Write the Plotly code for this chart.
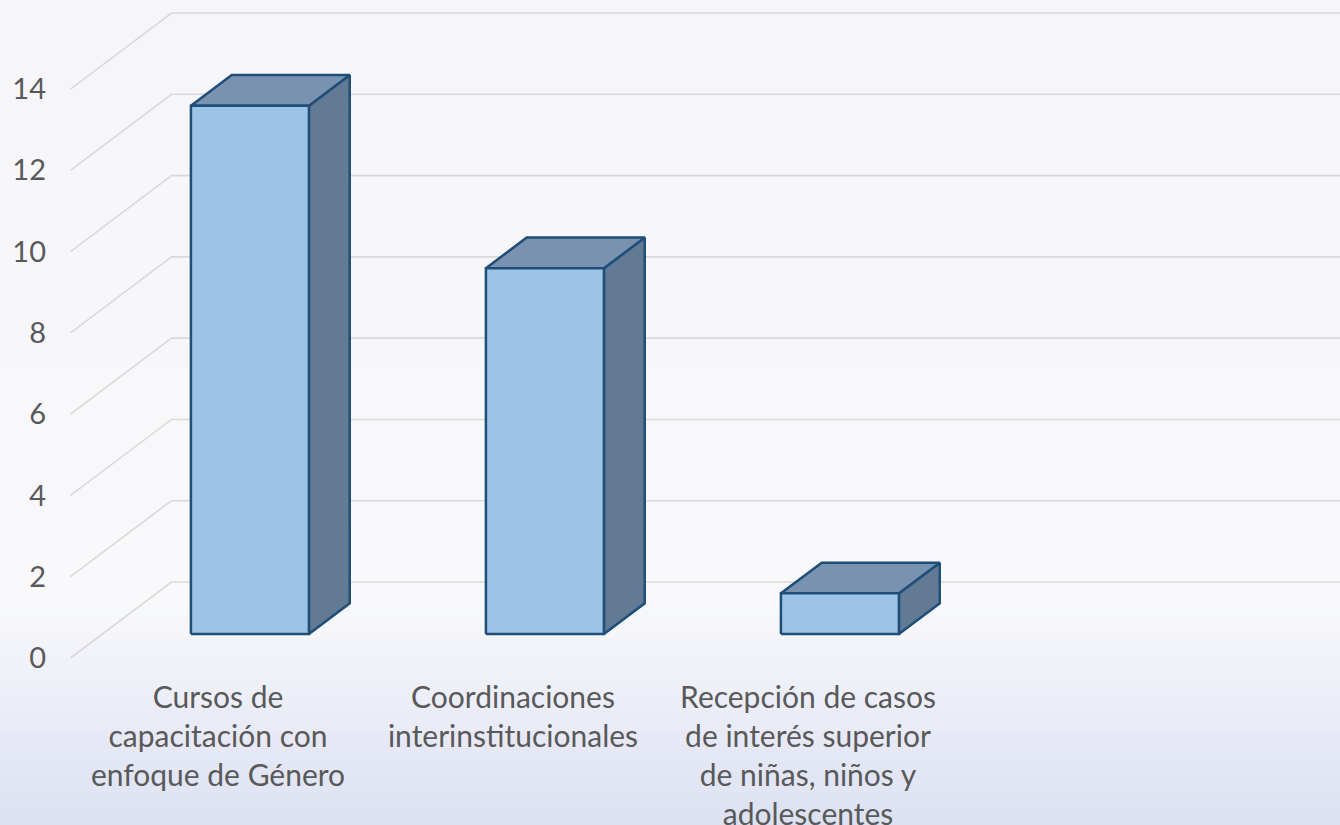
import plotly.graph_objects as go

# ---------------- data ----------------
categories = [
    "Cursos de<br>capacitación con<br>enfoque de Género",
    "Coordinaciones<br>interinstitucionales",
    "Recepción de casos<br>de interés superior<br>de niñas, niños y<br>adolescentes",
]
values = [13, 9, 1]
y_ticks = [0, 2, 4, 6, 8, 10, 12, 14]

# ---------------- 3D projection settings ----------------
DX = 0.3424      # depth shift in category units (front -> back wall)
DY = 1.870       # depth shift in value units (front -> back wall)
D_FRONT = 0.316  # bar front face depth fraction
D_BACK = 0.72    # bar back face depth fraction
HALF_W = 0.2     # half bar width (category units)
X_LEFT = -0.5    # left wall position
X_RIGHT = 4.5

EDGE = "#1F4E79"
FRONT = "#9DC3E6"
TOP = "#7892AF"
SIDE = "#637A94"
GRID = "#D9D9D9"
TXT = "#595959"
FONT = "Lato, Liberation Sans, sans-serif"

W, H = 1340, 825
L_M, B_M = 50, 150
plot_h = H - B_M
px_per_unit = 40.64
zero_px = 658
y_lo = (zero_px - plot_h) / px_per_unit
y_hi = zero_px / px_per_unit
cat_px = 295.0
cat0_px = 218
x_lo = (L_M - cat0_px) / cat_px
x_hi = (W - cat0_px) / cat_px

fig = go.Figure()


def proj(x, v, d):
    return x + d * DX, v + d * DY


# side wall diagonals and back wall gridlines
for v in y_ticks:
    x0, y0 = proj(X_LEFT, v, 0)
    x1, y1 = proj(X_LEFT, v, 1)
    fig.add_trace(go.Scatter(x=[x0, x1, X_RIGHT], y=[y0, y1, y1], mode="lines",
                             line=dict(color=GRID, width=1.6),
                             hoverinfo="skip", showlegend=False))

# bars
for i, val in enumerate(values):
    xl, xr = i - HALF_W, i + HALF_W
    fl = proj(xl, 0, D_FRONT); fr = proj(xr, 0, D_FRONT)
    ftl = proj(xl, val, D_FRONT); ftr = proj(xr, val, D_FRONT)
    btl = proj(xl, val, D_BACK); btr = proj(xr, val, D_BACK)
    br = proj(xr, 0, D_BACK)
    faces = [
        ([fr, br, btr, ftr, fr], SIDE),
        ([ftl, ftr, btr, btl, ftl], TOP),
        ([fl, fr, ftr, ftl, fl], FRONT),
    ]
    for pts, col in faces:
        fig.add_trace(go.Scatter(
            x=[p[0] for p in pts], y=[p[1] for p in pts], mode="lines",
            fill="toself", fillcolor=col,
            line=dict(color=EDGE, width=2.5), hoverinfo="skip",
            showlegend=False))

# gradient background
stops = [(0.0, (245, 245, 250)), (600 / H, (249, 249, 252)), (1.0, (220, 225, 242))]
N = 80
shapes = []


def to_paper(t):
    py = t * H
    return (plot_h - py) / plot_h


for k in range(N):
    t0, t1 = k / N, (k + 1) / N
    tm = (t0 + t1) / 2
    for (a, ca), (b, cb) in zip(stops[:-1], stops[1:]):
        if a <= tm <= b:
            f = (tm - a) / (b - a)
            c = tuple(round(ca[j] + (cb[j] - ca[j]) * f) for j in range(3))
            break
    y0 = to_paper(t1) if k < N - 1 else to_paper(1.2)
    y1 = to_paper(t0) + 0.002 if k > 0 else to_paper(-0.2)
    shapes.append(dict(type="rect", xref="paper", yref="paper",
                       x0=-0.1, x1=1.1, y0=y0, y1=y1,
                       fillcolor="rgb(%d,%d,%d)" % c, line=dict(width=0),
                       layer="below"))

fig.update_layout(
    width=W, height=H,
    margin=dict(l=L_M, r=0, t=0, b=B_M),
    paper_bgcolor="rgb(245,245,250)",
    plot_bgcolor="rgba(0,0,0,0)",
    shapes=shapes,
    showlegend=False,
    hovermode=False,
    xaxis=dict(range=[x_lo, x_hi], tickvals=list(range(len(categories))),
               ticktext=categories, showgrid=False, zeroline=False,
               showline=False, ticks="", tickangle=0, automargin=False,
               ticklabelstandoff=2,
               tickfont=dict(family=FONT, size=30, color=TXT)),
    yaxis=dict(range=[y_lo, y_hi], tickvals=y_ticks,
               ticktext=[str(v) for v in y_ticks], showgrid=False,
               zeroline=False, showline=False, ticks="", automargin=False,
               ticklabelstandoff=3,
               tickfont=dict(family=FONT, size=29, color=TXT)),
)

fig.write_html(
    "out.html",
    config={"displayModeBar": False},
    post_script="document.body.style.margin='0';"
                "document.body.style.overflow='hidden';"
                "document.body.style.background='rgb(220,225,242)';",
)
